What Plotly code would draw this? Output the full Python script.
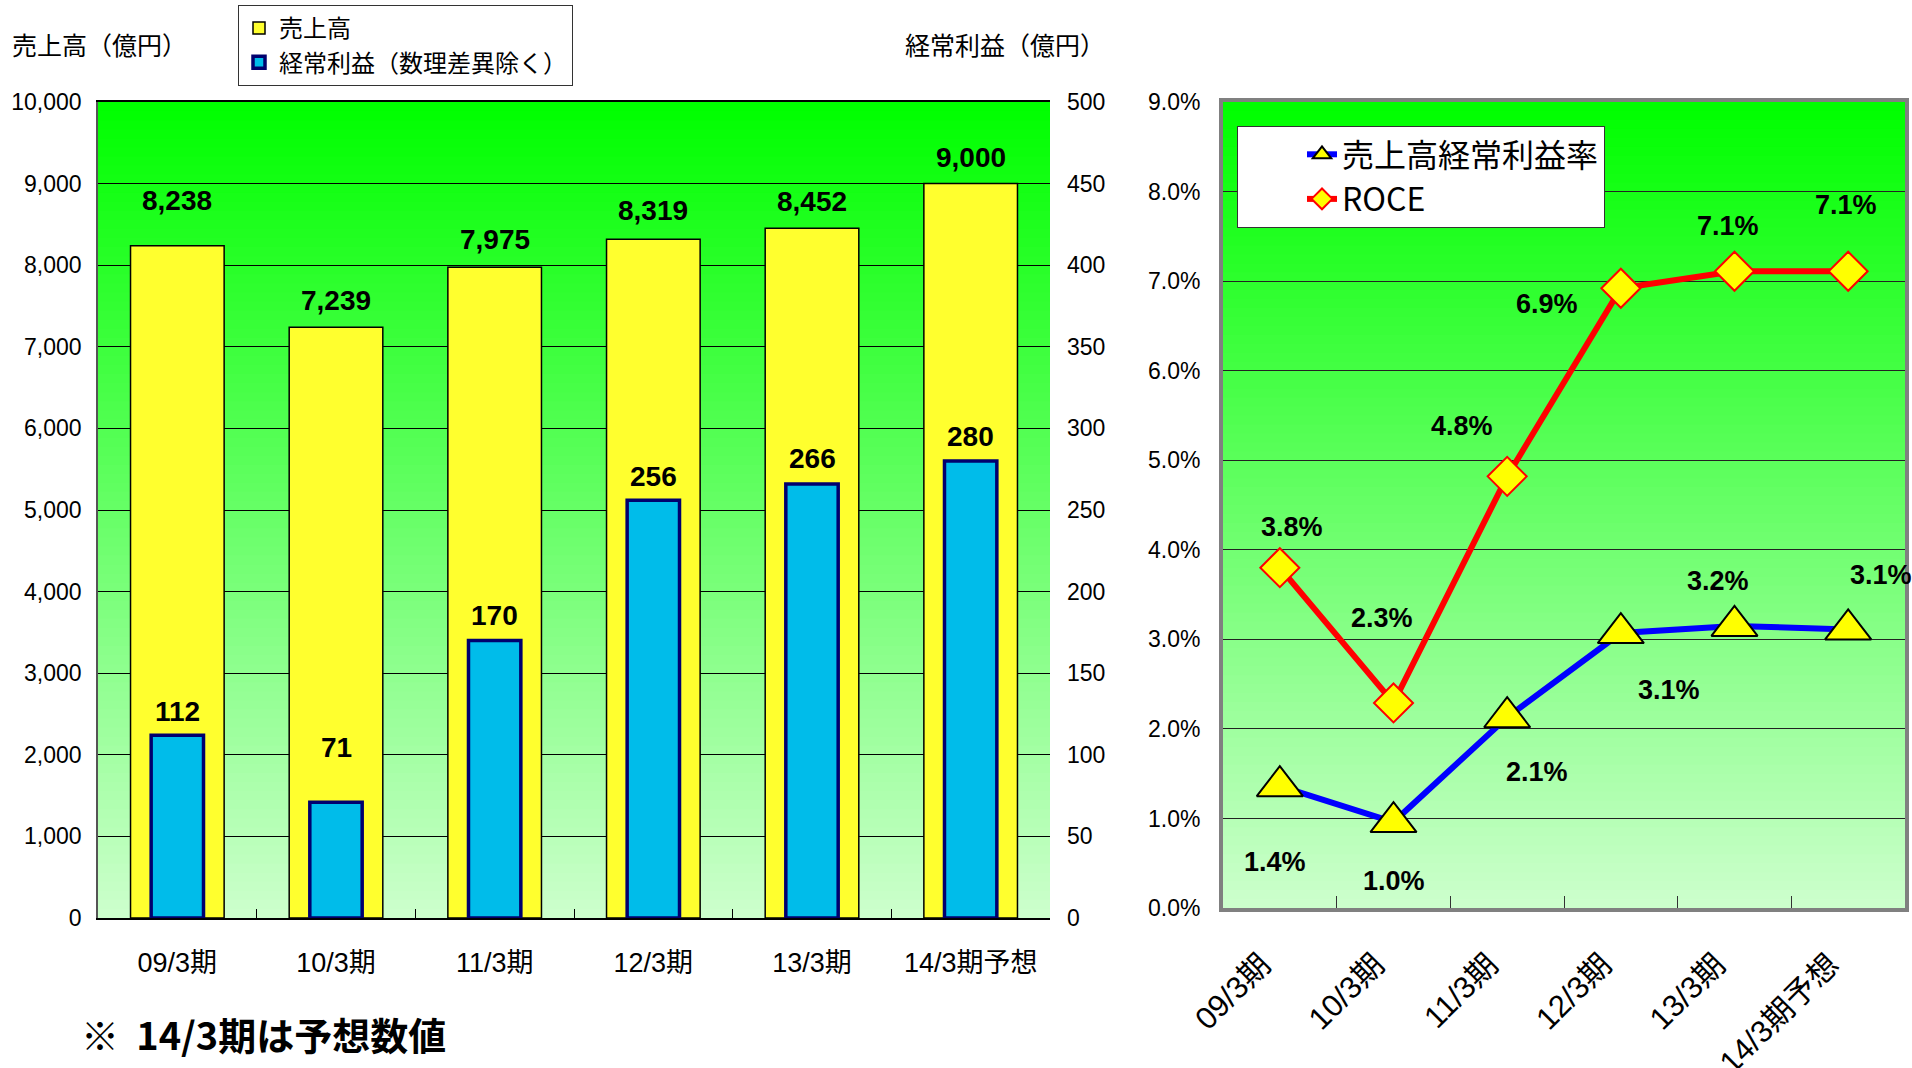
import plotly.graph_objects as go

# ---------------- data ----------------
periods = ["09/3期", "10/3期", "11/3期", "12/3期", "13/3期", "14/3期予想"]
sales = [8238, 7239, 7975, 8319, 8452, 9000]            # 売上高（億円）
ordinary_profit = [112, 71, 170, 256, 266, 280]          # 経常利益（億円）
margin_rate = [1.36, 0.96, 2.13, 3.07, 3.15, 3.11]       # 売上高経常利益率（%）
margin_labels = ["1.4%", "1.0%", "2.1%", "3.1%", "3.2%", "3.1%"]
roce = [3.80, 2.29, 4.82, 6.92, 7.11, 7.11]              # ROCE（%）
roce_labels = ["3.8%", "2.3%", "4.8%", "6.9%", "7.1%", "7.1%"]

left_ticks = list(range(0, 10001, 1000))
right_ticks = list(range(0, 501, 50))
pct_ticks = list(range(0, 10))
pct_tick_text = ["0.0%", "1.0%", "2.0%", "3.0%", "4.0%", "5.0%", "6.0%", "7.0%", "8.0%", "9.0%"]

# ---------------- style (label placement offsets, px) ----------------
sales_label_shift = [45, 27, 28, 29, 27, 26]
profit_label_shift = [24, 55, 25, 24, 25, 25]
margin_label_shift = [(-5, -76), (0, -59), (30, -55), (48, -57), (-17, 45), (33, 54)]
roce_label_shift = [(12, 41), (-12, 85), (-45, 50), (-74, -16), (-7, 45), (-2, 66)]
ROT_PAD = "\u00a0\u00a0\u00a0"  # trailing pad to shift rotated labels left of the category centre

FONT = "Arial, Liberation Sans, Noto Sans CJK JP, sans-serif"
JFONT = "Noto Sans CJK JP, Arial, sans-serif"

W, H = 1912, 1068
def px_x(v):
    return v / W
def px_y(v):
    return 1 - v / H

LX = [px_x(98), px_x(1050)]
LY = [px_y(918), px_y(102)]
RX = [px_x(1223), px_x(1905)]
RY = [px_y(908), px_y(102)]

fig = go.Figure()

# bars
fig.add_trace(go.Bar(
    x=periods, y=sales, name="売上高", xaxis="x", yaxis="y",
    width=0.59, marker=dict(color="#FFFF2E", line=dict(color="#000000", width=1.5)),
    legend="legend", legendgroup="a",
))
fig.add_trace(go.Bar(
    x=periods, y=ordinary_profit, name="経常利益（数理差異除く）", xaxis="x", yaxis="y2",
    width=0.33, marker=dict(color="#00BCEA", line=dict(color="#00006E", width=3.5)),
    legend="legend", legendgroup="b",
))

# lines
fig.add_trace(go.Scatter(
    x=periods, y=margin_rate, name="売上高経常利益率", xaxis="x2", yaxis="y3",
    mode="lines+markers",
    line=dict(color="#0000FF", width=6),
    marker=dict(symbol="triangle-up", size=40, color="#FFFF00", line=dict(color="#000000", width=2)),
    legend="legend2", legendgroup="c",
))
fig.add_trace(go.Scatter(
    x=periods, y=roce, name="ROCE", xaxis="x2", yaxis="y3",
    mode="lines+markers",
    line=dict(color="#FF0000", width=6),
    marker=dict(symbol="diamond", size=30, color="#FFFF00", line=dict(color="#FF0000", width=2)),
    legend="legend2", legendgroup="d",
))

annotations = []
for p, v, s in zip(periods, sales, sales_label_shift):
    annotations.append(dict(x=p, y=v, xref="x", yref="y", text=f"{v:,}", showarrow=False,
                            yshift=s, font=dict(family=FONT, size=28, color="#000000", weight="bold")))
for p, v, s in zip(periods, ordinary_profit, profit_label_shift):
    annotations.append(dict(x=p, y=v, xref="x", yref="y2", text=f"{v:,}", showarrow=False,
                            yshift=s, font=dict(family=FONT, size=28, color="#000000", weight="bold")))
for p, v, t, (dx, dy) in zip(periods, margin_rate, margin_labels, margin_label_shift):
    annotations.append(dict(x=p, y=v, xref="x2", yref="y3", text=t, showarrow=False,
                            xshift=dx, yshift=dy, font=dict(family=FONT, size=27, color="#000000", weight="bold")))
for p, v, t, (dx, dy) in zip(periods, roce, roce_labels, roce_label_shift):
    annotations.append(dict(x=p, y=v, xref="x2", yref="y3", text=t, showarrow=False,
                            xshift=dx, yshift=dy, font=dict(family=FONT, size=27, color="#000000", weight="bold")))

annotations += [
    dict(x=px_x(10), y=px_y(44), xref="paper", yref="paper", xanchor="left", yanchor="middle",
         text="売上高（億円）", showarrow=False, font=dict(family=JFONT, size=25, color="#000000")),
    dict(x=px_x(903), y=px_y(44), xref="paper", yref="paper", xanchor="left", yanchor="middle",
         text="経常利益（億円）", showarrow=False, font=dict(family=JFONT, size=25, color="#000000")),
    dict(x=px_x(79), y=px_y(1033), xref="paper", yref="paper", xanchor="left", yanchor="middle",
         text="※  14/3期は予想数値", showarrow=False,
         font=dict(family=JFONT, size=38, color="#000000", weight="bold")),
]

# gradient backgrounds
shapes = []
N = 90
top_c = (0, 255, 0)
bot_c = (204, 255, 204)
for xr, yr in (("x domain", "y domain"), ("x2 domain", "y3 domain")):
    for i in range(N):
        t = i / (N - 1)  # 0 bottom -> 1 top
        c = tuple(round(bot_c[k] + (top_c[k] - bot_c[k]) * t) for k in range(3))
        shapes.append(dict(type="rect", xref=xr, yref=yr, x0=0, x1=1,
                           y0=i / N, y1=(i + 1) / N + 0.002, layer="below",
                           line=dict(width=0), fillcolor=f"rgb{c}"))

axis_font = dict(family=FONT, size=23, color="#000000")

fig.update_layout(
    width=W, height=H, autosize=False,
    margin=dict(l=0, r=0, t=0, b=0, autoexpand=False),
    paper_bgcolor="#FFFFFF", plot_bgcolor="rgba(0,0,0,0)",
    barmode="overlay",
    showlegend=True,
    shapes=shapes,
    annotations=annotations,
    xaxis=dict(domain=LX, anchor="y", type="category", automargin=False,
               showgrid=False, showline=True, linecolor="#000000", linewidth=1.5, mirror=True,
               ticks="inside", tickson="boundaries", ticklen=9, tickcolor="#000000",
               tickfont=dict(family=FONT, size=27, color="#000000"), ticklabelstandoff=20),
    yaxis=dict(domain=LY, anchor="x", range=[0, 10000], tickvals=left_ticks, automargin=False,
               tickformat=",d", showgrid=True, gridcolor="#000000", gridwidth=1,
               showline=True, linecolor="#555555", linewidth=1.5, ticks="", zeroline=False,
               tickfont=axis_font, ticklabelstandoff=10),
    yaxis2=dict(anchor="x", overlaying="y", side="right", range=[0, 500], tickvals=right_ticks,
                automargin=False, showgrid=False, showline=False, ticks="", zeroline=False,
                tickfont=axis_font, ticklabelstandoff=16),
    xaxis2=dict(domain=RX, anchor="y3", type="category", range=[-0.5, 5.5], automargin=False,
                tickvals=periods, ticktext=[p + ROT_PAD for p in periods],
                showgrid=False, showline=True, linecolor="#808080", linewidth=4, mirror=True,
                ticks="inside", tickson="boundaries", ticklen=12, tickcolor="#333333",
                tickangle=-45, tickfont=dict(family=FONT, size=31, color="#000000"),
                ticklabelstandoff=4),
    yaxis3=dict(domain=RY, anchor="x2", range=[0, 9], tickvals=pct_ticks, ticktext=pct_tick_text,
                automargin=False, showgrid=True, gridcolor="#222222", gridwidth=1,
                showline=True, linecolor="#808080", linewidth=4, mirror=True, ticks="", zeroline=False,
                tickfont=axis_font, ticklabelstandoff=14),
    legend=dict(x=px_x(238), y=px_y(5), xanchor="left", yanchor="top",
                bgcolor="#FFFFFF", bordercolor="#333333", borderwidth=1,
                font=dict(family=JFONT, size=24, color="#000000"),
                tracegroupgap=13, itemwidth=30, traceorder="normal"),
    legend2=dict(x=px_x(1237), y=px_y(126), xanchor="left", yanchor="top",
                 bgcolor="#FFFFFF", bordercolor="#333333", borderwidth=1,
                 font=dict(family=JFONT, size=32, color="#000000"),
                 tracegroupgap=6, itemwidth=30, indentation=64, traceorder="normal"),
)

fig.write_html("out.html")
